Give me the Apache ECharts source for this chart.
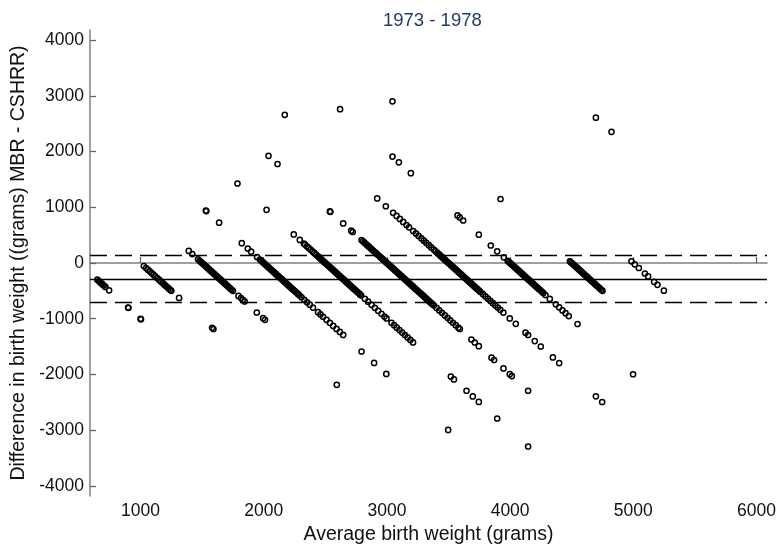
<!DOCTYPE html>
<html>
<head>
<meta charset="utf-8">
<script src="https://cdn.jsdelivr.net/npm/echarts@6/dist/echarts.min.js"></script>
<style>
html,body{margin:0;padding:0;background:#fff;}
#chart{width:779px;height:546px;}
</style>
</head>
<body>
<div id="chart"></div>
<script>
// [average birth weight, difference MBR - CSHRR] in grams
const mbr500 = [[650,-300],[662,-324],[672,-344],[682,-364],[692,-384],[702,-404],[715,-430],[745,-490],
  [899,-798],[902,-804],[1000,-1000],[1004,-1010]];
const mbr1000 = [[1027,-54],[1045,-90],[1060,-120],[1075,-150],[1090,-180],[1105,-210],[1120,-240],[1135,-270],
  [1150,-300],[1165,-330],[1180,-360],[1192,-384],[1204,-408],[1216,-432],[1228,-456],[1240,-480],[1250,-500],
  [1313,-626],[1581,-1162],[1592,-1184]];
const mbr1500 = [[1392,216],[1420,160],[1467,66],
  [1480,40],[1490,20],[1500,0],[1510,-20],[1520,-40],[1530,-60],[1540,-80],[1550,-100],[1560,-120],[1570,-140],
  [1580,-160],[1590,-180],[1600,-200],[1610,-220],[1620,-240],[1630,-260],[1640,-280],[1650,-300],[1660,-320],
  [1670,-340],[1680,-360],[1690,-380],[1700,-400],[1710,-420],[1720,-440],[1730,-460],[1740,-480],[1750,-500],
  [1795,-590],[1815,-630],[1830,-660],[1845,-690],[1944,-888],[1995,-990],[2010,-1020],[2593,-2186]];
const mbr2000 = [[1530,940],[1534,932],[1638,724],[1822,356],[1871,258],[1898,204],[1946,108],[1969,62],
  [1980,40],[1990,20],[2000,0],[2010,-20],[2020,-40],[2030,-60],[2040,-80],[2050,-100],[2060,-120],[2070,-140],
  [2080,-160],[2090,-180],[2100,-200],[2110,-220],[2120,-240],[2130,-260],[2140,-280],[2150,-300],[2160,-320],
  [2170,-340],[2180,-360],[2190,-380],[2200,-400],[2210,-420],[2220,-440],[2230,-460],[2240,-480],[2250,-500],
  [2260,-520],[2270,-540],[2280,-560],[2290,-580],
  [2307,-614],[2330,-660],[2352,-704],[2374,-748],[2400,-800],[2441,-882],[2461,-922],[2482,-964],[2510,-1020],
  [2537,-1074],[2564,-1128],[2591,-1182],[2618,-1236],[2645,-1290],[2794,-1588],[2896,-1792],[2995,-1990],[3497,-2994]];
const mbr2500 = [[1787,1426],[2023,954],[2244,512],[2293,414],[2326,348],
  [2335,330],[2350,300],[2365,270],[2380,240],[2395,210],[2410,180],[2425,150],
  [2440,120],[2450,100],[2460,80],[2470,60],[2480,40],[2490,20],[2500,0],[2510,-20],[2520,-40],[2530,-60],
  [2540,-80],[2550,-100],[2560,-120],[2570,-140],[2580,-160],[2590,-180],[2600,-200],[2610,-220],[2620,-240],
  [2630,-260],[2640,-280],[2650,-300],[2660,-320],[2670,-340],[2680,-360],[2690,-380],[2700,-400],[2710,-420],
  [2720,-440],[2730,-460],[2740,-480],[2750,-500],[2760,-520],[2770,-540],[2780,-560],[2790,-580],
  [2821,-642],[2847,-694],[2875,-750],[2902,-804],[2929,-858],[2956,-912],[2980,-960],[2997,-994],
  [3037,-1074],[3058,-1116],[3080,-1160],[3102,-1204],[3124,-1248],[3146,-1292],[3168,-1336],[3190,-1380],[3212,-1424],
  [3519,-2038],[3544,-2088],[3646,-2292],[3697,-2394],[3746,-2492],[3895,-2790],[4146,-3292]];
const mbr3000 = [[2039,1922],[2112,1776],[2537,926],[2541,918],[2645,710],[2710,580],[2722,556],
  [2794,412],[2806,388],[2818,364],[2830,340],[2842,316],[2854,292],[2866,268],[2878,244],[2890,220],[2902,196],
  [2914,172],[2926,148],[2938,124],
  [2950,100],[2960,80],[2970,60],[2980,40],[2990,20],[3000,0],[3010,-20],[3020,-40],[3030,-60],[3040,-80],
  [3050,-100],[3060,-120],[3070,-140],[3080,-160],[3090,-180],[3100,-200],[3110,-220],[3120,-240],[3130,-260],
  [3140,-280],[3150,-300],[3160,-320],[3170,-340],[3180,-360],[3190,-380],[3200,-400],[3210,-420],[3220,-440],
  [3230,-460],[3240,-480],[3250,-500],[3260,-520],[3270,-540],[3280,-560],[3290,-580],[3300,-600],[3310,-620],
  [3320,-640],[3330,-660],[3340,-680],[3350,-700],[3360,-720],[3370,-740],[3380,-760],
  [3403,-806],[3425,-850],[3447,-894],[3470,-940],[3492,-984],[3514,-1028],[3536,-1072],[3558,-1116],[3580,-1160],
  [3592,-1184],[3686,-1372],[3713,-1426],[3746,-1492],[3849,-1698],[3870,-1740],[3946,-1892],[3997,-1994],
  [4014,-2028],[4146,-2292]];
const mbr3500 = [[2171,2658],[2921,1158],[2991,1018],[3050,900],[3078,844],[3105,790],[3132,736],[3159,682],
  [3180,640],[3213,574],[3235,530],[3257,486],[3280,440],[3300,400],[3320,360],[3340,320],[3360,280],[3380,240],[3395,210],
  [3410,180],[3420,160],[3430,140],[3440,120],[3450,100],[3460,80],[3470,60],[3480,40],[3490,20],[3500,0],
  [3510,-20],[3520,-40],[3530,-60],[3540,-80],[3550,-100],[3560,-120],[3570,-140],[3580,-160],[3590,-180],
  [3600,-200],[3610,-220],[3620,-240],[3630,-260],[3640,-280],[3650,-300],[3660,-320],[3670,-340],[3680,-360],
  [3690,-380],[3700,-400],[3710,-420],[3720,-440],[3730,-460],[3740,-480],[3750,-500],[3760,-520],
  [3780,-560],[3800,-600],[3820,-640],[3840,-680],[3860,-720],[3880,-760],[3900,-800],[3920,-840],[3945,-890],
  [3997,-994],[4046,-1092],[4125,-1250],[4146,-1292],[4200,-1400],[4249,-1498],[4347,-1694],[4398,-1796],
  [4696,-2392],[4747,-2494]];
const mbr4000 = [[2620,2760],[3045,1910],[3097,1806],[3194,1612],[3573,854],[3591,818],[3619,762],[3746,508],
  [3843,314],[3895,210],[3949,102],
  [3980,40],[3990,20],[4000,0],[4010,-20],[4020,-40],[4030,-60],[4040,-80],[4050,-100],[4060,-120],[4070,-140],
  [4080,-160],[4090,-180],[4100,-200],[4110,-220],[4120,-240],[4130,-260],[4140,-280],[4150,-300],[4160,-320],
  [4170,-340],[4180,-360],[4190,-380],[4200,-400],[4210,-420],[4220,-440],[4230,-460],[4240,-480],[4250,-500],
  [4260,-520],[4270,-540],
  [4287,-574],[4322,-644],[4371,-742],[4398,-796],[4425,-850],[4450,-900],[4476,-952],[4547,-1094],[4998,-1996]];
const mbr4500 = [[3045,2900],[3922,1148],[4485,30],
  [4490,20],[4500,0],[4510,-20],[4520,-40],[4530,-60],[4540,-80],[4550,-100],[4560,-120],[4570,-140],[4580,-160],
  [4590,-180],[4600,-200],[4610,-220],[4620,-240],
  [4632,-264],[4644,-288],[4656,-312],[4668,-336],[4680,-360],[4692,-384],[4704,-408],[4716,-432],[4728,-456],
  [4740,-480],[4750,-500]];
const mbr5000 = [[4985,30],[5012,-24],[5045,-90],[5094,-188],[5120,-240],[5169,-338],[5196,-392],[5248,-496]];
const mbr6000 = [[4696,2608],[4823,2354]];

const meanDiff = -285;
const upperLimit = 135;
const lowerLimit = -705;

const xTicks = [1000, 2000, 3000, 4000, 5000, 6000];
const yTicks = [-4000, -3000, -2000, -1000, 0, 1000, 2000, 3000, 4000];

const allPoints = [].concat(mbr500, mbr1000, mbr1500, mbr2000, mbr2500, mbr3000, mbr3500, mbr4000, mbr4500, mbr5000, mbr6000);

const font = "'Liberation Sans', Arial, sans-serif";
const axisGray = '#808080';

const chart = echarts.init(document.getElementById('chart'), null, {renderer: 'canvas'});
chart.setOption({
  animation: false,
  backgroundColor: '#fff',
  title: {
    text: '1973 - 1978',
    left: 378, top: 6,
    textStyle: {color: '#243a66', fontSize: 18.5, fontWeight: 'normal', fontFamily: font}
  },
  grid: {left: 90, right: 12, top: 30, bottom: 50, containLabel: false, outerBoundsMode: 'none'},
  xAxis: {
    type: 'value', min: 590, max: 6085,
    name: 'Average birth weight (grams)', nameLocation: 'middle', nameGap: 20,
    nameTextStyle: {color: '#111', fontSize: 19.5, fontFamily: font},
    axisLine: {show: true, lineStyle: {color: axisGray, width: 1.5}},
    axisTick: {show: true, inside: true, length: 6, customValues: xTicks, lineStyle: {color: '#666', width: 1.3}},
    axisLabel: {customValues: xTicks, formatter: v => String(v), color: '#111', fontSize: 17.5, fontFamily: font, margin: 6},
    splitLine: {show: false}
  },
  yAxis: {
    type: 'value', min: -4180, max: 4180,
    name: 'Difference in birth weight ((grams) MBR - CSHRR)', nameLocation: 'middle', nameGap: 56,
    nameTextStyle: {color: '#111', fontSize: 19.5, fontFamily: font},
    axisLine: {show: true, lineStyle: {color: axisGray, width: 1.5}},
    axisTick: {show: true, inside: true, length: 6, customValues: yTicks, lineStyle: {color: '#666', width: 1.3}},
    axisLabel: {customValues: yTicks, formatter: v => String(v), color: '#111', fontSize: 17.5, fontFamily: font, margin: 6},
    splitLine: {show: false}
  },
  series: [{
    type: 'scatter',
    data: allPoints,
    symbol: 'circle',
    symbolSize: 5.2,
    itemStyle: {color: 'rgba(0,0,0,0)', borderColor: '#000', borderWidth: 1.5, opacity: 1},
    emphasis: {disabled: true},
    markLine: {
      silent: true,
      symbol: ['none', 'none'],
      label: {show: false},
      lineStyle: {color: '#000', width: 1.3},
      data: [
        {yAxis: meanDiff, lineStyle: {type: 'solid', color: '#000', width: 1.3}},
        {yAxis: upperLimit, lineStyle: {type: [17, 8], color: '#000', width: 1.3}},
        {yAxis: lowerLimit, lineStyle: {type: [17, 8], color: '#000', width: 1.3}}
      ]
    }
  }]
});
</script>
</body>
</html>
